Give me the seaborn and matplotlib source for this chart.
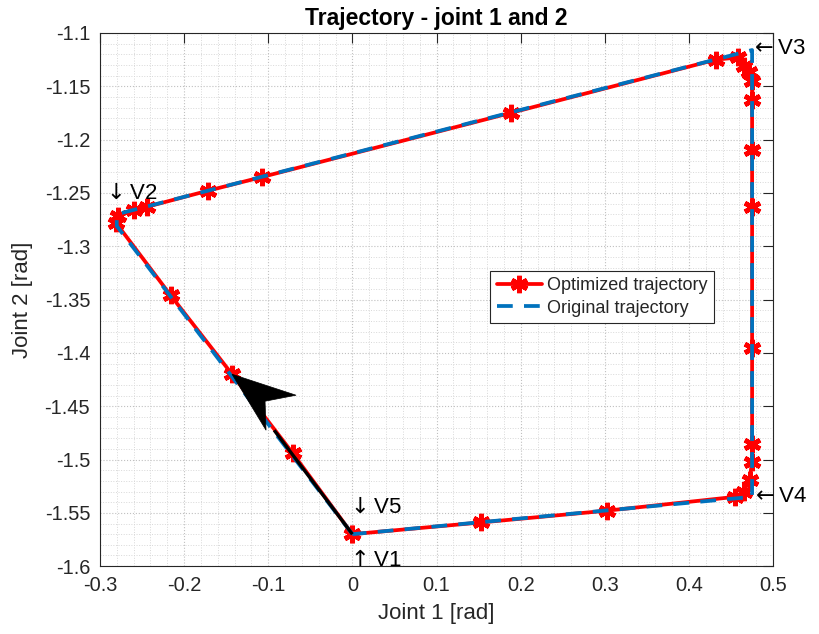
import numpy as np
import pandas as pd
import seaborn as sns
import matplotlib
matplotlib.use("Agg")
import matplotlib.pyplot as plt
from matplotlib import transforms
from matplotlib.patches import Polygon
from matplotlib.ticker import MultipleLocator, FuncFormatter

# Original path (joint 1, joint 2) in rad
orig_x = [0.0, -0.28, -0.28, 0.475, 0.475, 0.0]
orig_y = [-1.57, -1.281, -1.270, -1.116, -1.535, -1.57]

# Optimized trajectory samples
opt_x = [0.0, -0.071, -0.143, -0.216, -0.281, -0.279, -0.260, -0.244, -0.172,
         -0.107, 0.188, 0.432, 0.458, 0.465, 0.471, 0.475, 0.475, 0.475,
         0.475, 0.475, 0.475, 0.475, 0.472, 0.465, 0.455, 0.302, 0.153, 0.0]
opt_y = [-1.570, -1.494, -1.420, -1.346, -1.278, -1.272, -1.266, -1.263, -1.248,
         -1.235, -1.175, -1.125, -1.123, -1.131, -1.137, -1.145, -1.163, -1.210,
         -1.263, -1.395, -1.485, -1.502, -1.519, -1.530, -1.535, -1.548, -1.559, -1.570]

# Via-point labels and where their text sits
via_labels = [r"$\uparrow$V1", r"$\downarrow$V2", r"$\leftarrow$V3",
              r"$\leftarrow$V4", r"$\downarrow$V5"]
via_text_x = [-0.008, -0.297, 0.472, 0.474, -0.008]
via_text_y = [-1.595, -1.250, -1.115, -1.535, -1.545]

x_ticks = [-0.3, -0.2, -0.1, 0.0, 0.1, 0.2, 0.3, 0.4, 0.5]
y_ticks = [-1.6, -1.55, -1.5, -1.45, -1.4, -1.35, -1.3, -1.25, -1.2, -1.15, -1.1]

sns.set_theme(style="white")
plt.rcParams["font.family"] = ["Liberation Sans", "DejaVu Sans"]

fig = plt.figure(figsize=(8.19, 6.34), dpi=100)
ax = fig.add_axes([0.122, 0.107, 0.822, 0.841])

opt_df = pd.DataFrame({"q1": opt_x, "q2": opt_y})
orig_df = pd.DataFrame({"q1": orig_x, "q2": orig_y})

sns.lineplot(data=opt_df, x="q1", y="q2", sort=False, estimator=None, ax=ax,
             color="#ff0000", lw=2.7, marker=(6, 2, 0), markersize=12.5,
             markeredgewidth=3.4, markeredgecolor="#ff0000",
             label="Optimized trajectory", zorder=3)
sns.lineplot(data=orig_df, x="q1", y="q2", sort=False, estimator=None, ax=ax,
             color="#0072BD", lw=2.7, linestyle=(0, (4.2, 3)),
             label="Original trajectory", zorder=4)

# Direction arrow from the start point towards the third sample
tail = np.array([opt_x[0], opt_y[0]])
tip = np.array([opt_x[2], opt_y[2]])
shaft_end = tail + 0.65 * (tip - tail)
ax.plot([tail[0], shaft_end[0]], [tail[1], shaft_end[1]], color="black", lw=2.4,
        solid_capstyle="butt", zorder=5)
head_tr = fig.dpi_scale_trans + transforms.ScaledTranslation(tip[0], tip[1], ax.transData)
head = Polygon([(0, 0), (0.64, -0.21), (0.33, -0.27), (0.34, -0.56)], closed=True,
               facecolor="black", edgecolor="black", lw=0.5, transform=head_tr, zorder=6)
ax.add_patch(head)

for lab, tx, ty in zip(via_labels, via_text_x, via_text_y):
    ax.text(tx, ty, lab, fontsize=16, ha="left", va="center", color="black",
            clip_on=False, zorder=7)

ax.set_xlim(-0.3, 0.5)
ax.set_ylim(-1.6, -1.1)
ax.set_xticks(x_ticks)
ax.set_yticks(y_ticks)
fmt = FuncFormatter(lambda v, p: "%g" % round(v, 4))
ax.xaxis.set_major_formatter(fmt)
ax.yaxis.set_major_formatter(fmt)
ax.xaxis.set_minor_locator(MultipleLocator(0.02))
ax.yaxis.set_minor_locator(MultipleLocator(0.01))
ax.tick_params(which="major", direction="in", length=7, width=0.8, top=True, right=True,
               labelsize=14.4, colors="#262626", pad=7)
ax.tick_params(which="minor", length=0)
ax.grid(which="major", linestyle=":", color="#c0c0c0", lw=0.8)
ax.grid(which="minor", linestyle=":", color="#d8d8d8", lw=0.7)
ax.set_axisbelow(True)
for s in ax.spines.values():
    s.set_color("#262626")
    s.set_linewidth(0.8)
    s.set_visible(True)

ax.set_xlabel("Joint 1 [rad]", fontsize=16, color="#262626", labelpad=6)
ax.set_ylabel("Joint 2 [rad]", fontsize=16, color="#262626", labelpad=8)
ax.set_title("Trajectory - joint 1 and 2", fontsize=16.5, fontweight="bold",
             color="black", pad=6)

leg = ax.legend(loc="upper left", bbox_to_anchor=(0.58, 0.5535), fontsize=13,
                frameon=True, fancybox=False, framealpha=1, edgecolor="#262626",
                borderpad=0.35, handlelength=2.5, handletextpad=0.3, labelspacing=0.3,
                borderaxespad=0)
leg.get_frame().set_linewidth(0.8)

fig.savefig("out.png", dpi=100)
